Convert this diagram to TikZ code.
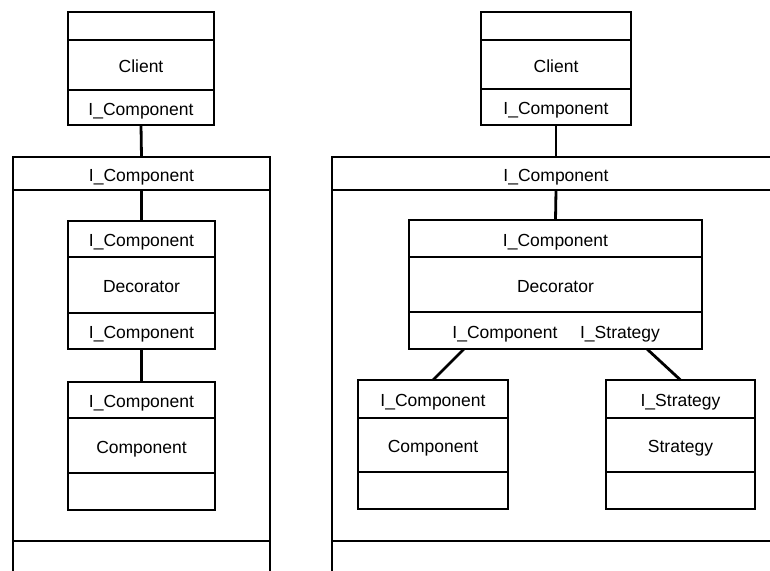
\documentclass[tikz,border=0pt]{standalone}
\usepackage{fontspec}
\setmainfont{Liberation Sans}
\usetikzlibrary{positioning}

\begin{document}
\begin{tikzpicture}[x=1pt, y=-1pt,
        font=\fontsize{17.5}{21}\selectfont,
        every node/.style={text height=15pt, text depth=0pt},
        cell/.style 2 args={draw, line width=1.6pt, minimum width=#1, minimum height=#2,
            inner sep=0pt, outer sep=0pt},
        link/.style={line width=2.8pt}]
                \useasboundingbox (0,0) rectangle (770,570);
                \clip (0,0) rectangle (770,570);

                % left: client, wrapper, decorator, component
                \node[cell={146pt}{28pt}, anchor=north] (clientL-top) at (141,12) {};
                \node[cell={146pt}{50pt}, below=0pt of clientL-top] (clientL) {Client};
                \node[cell={146pt}{35pt}, below=0pt of clientL] (clientL-if) {I\_Component};

                \node[cell={257pt}{33pt}, anchor=north] (wrapL-if) at (141.5,157) {I\_Component};
                \node[cell={257pt}{351pt}, below=0pt of wrapL-if] (wrapL) {};
                \node[cell={257pt}{40pt}, below=0pt of wrapL] (wrapL-foot) {};

                \node[cell={147pt}{36pt}, anchor=north] (decoL-top) at (141.5,221) {I\_Component};
                \node[cell={147pt}{56pt}, below=0pt of decoL-top] (decoL) {Decorator};
                \node[cell={147pt}{36pt}, below=0pt of decoL] (decoL-if) {I\_Component};

                \node[cell={147pt}{36pt}, anchor=north] (compL-if) at (141.5,382) {I\_Component};
                \node[cell={147pt}{55pt}, below=0pt of compL-if] (compL) {Component};
                \node[cell={147pt}{37pt}, below=0pt of compL] (compL-foot) {};

                \draw[link] (clientL-if.south) -- (wrapL-if.north);
                \draw[link] (wrapL-if.south) -- (decoL-top.north);
                \draw[link] (decoL-if.south) -- (compL-if.north);

                % right: decorator holding a component and a strategy
                \node[cell={150pt}{28pt}, anchor=north] (clientR-top) at (556,12) {};
                \node[cell={150pt}{49pt}, below=0pt of clientR-top] (clientR) {Client};
                \node[cell={150pt}{36pt}, below=0pt of clientR] (clientR-if) {I\_Component};

                \node[cell={448pt}{33pt}, anchor=north] (wrapR-if) at (556,157) {I\_Component};
                \node[cell={448pt}{351pt}, below=0pt of wrapR-if] (wrapR) {};
                \node[cell={448pt}{40pt}, below=0pt of wrapR] (wrapR-foot) {};

                \node[cell={293pt}{37pt}, anchor=north] (decoR-top) at (555.5,220) {I\_Component};
                \node[cell={293pt}{55pt}, below=0pt of decoR-top] (decoR) {Decorator};
                \node[cell={293pt}{37pt}, below=0pt of decoR] (decoR-if) {};
                \node (decoR-ifc) at (505,331) {I\_Component};
                \node (decoR-ifs) at (620,331) {I\_Strategy};
                \coordinate (decoR-c) at (464,349);
                \coordinate (decoR-s) at (647,349);

                \node[cell={150pt}{38pt}, anchor=north] (compR-if) at (433,380) {I\_Component};
                \node[cell={150pt}{54pt}, below=0pt of compR-if] (compR) {Component};
                \node[cell={150pt}{37pt}, below=0pt of compR] (compR-foot) {};

                \node[cell={149pt}{38pt}, anchor=north] (stratR-if) at (680.5,380) {I\_Strategy};
                \node[cell={149pt}{54pt}, below=0pt of stratR-if] (stratR) {Strategy};
                \node[cell={149pt}{37pt}, below=0pt of stratR] (stratR-foot) {};

                \draw[link] (clientR-if.south) -- (wrapR-if.north);
                \draw[link] (wrapR-if.south) -- (decoR-top.north);
                \draw[link] (decoR-c) -- (compR-if.north);
                \draw[link] (decoR-s) -- (stratR-if.north);
\end{tikzpicture}
\end{document}
